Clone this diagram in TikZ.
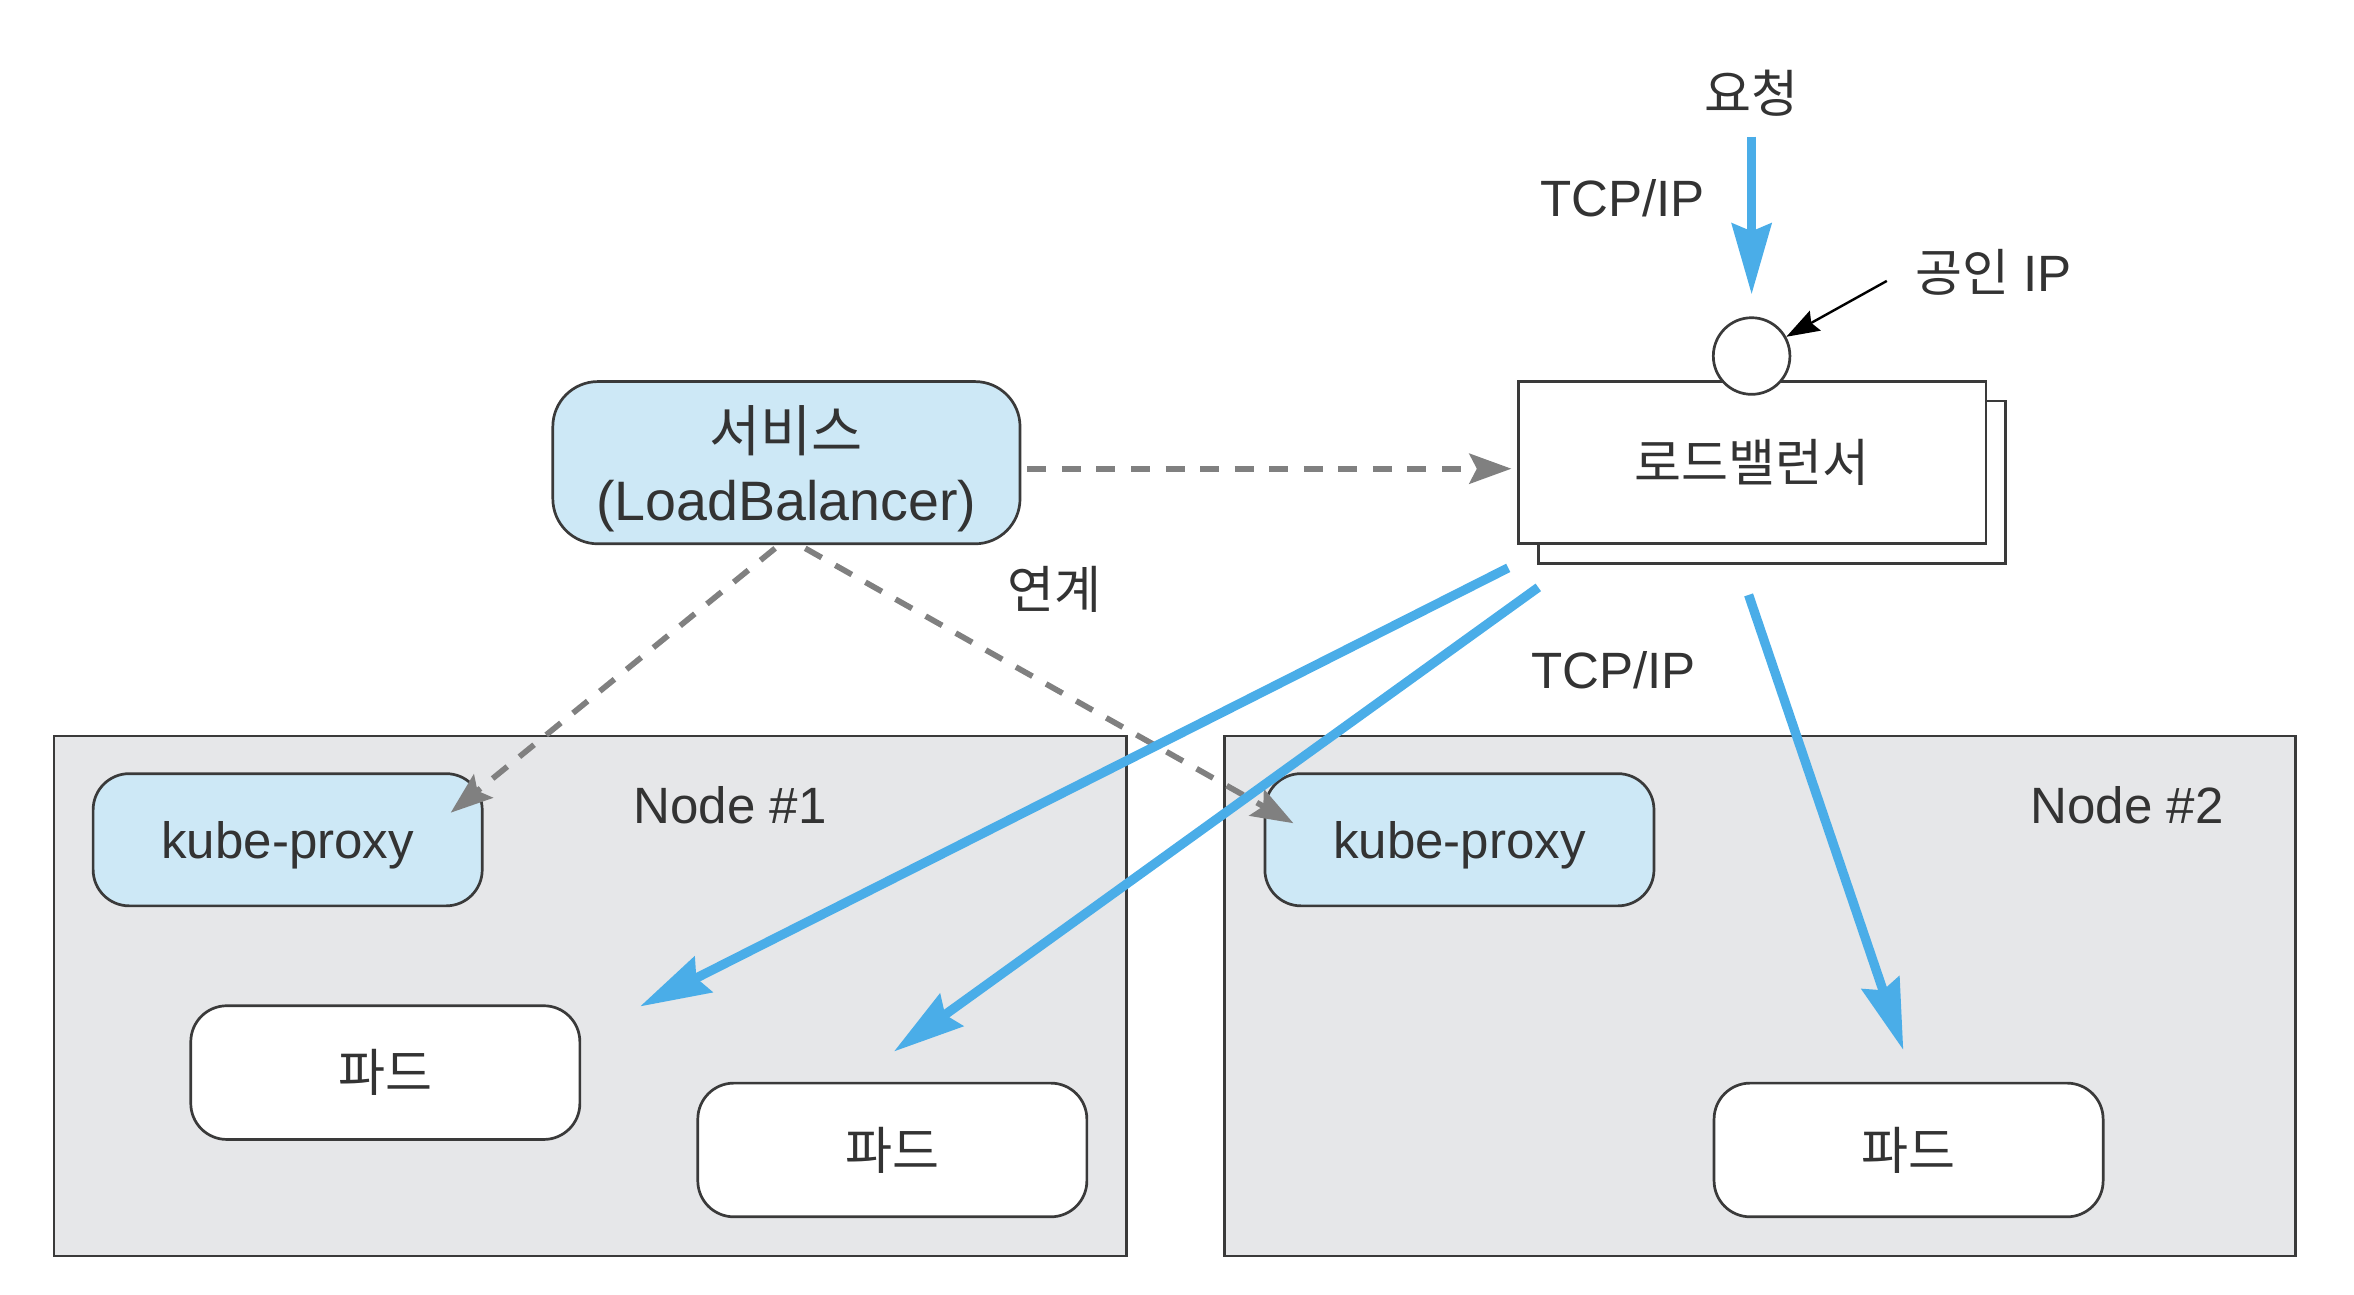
\documentclass[tikz,border=0pt]{standalone}
\usepackage{fontspec}
\setmainfont{Liberation Sans}
\newfontfamily\kr{Noto Sans CJK KR}
\usetikzlibrary{arrows.meta,calc}
\definecolor{bluefill}{HTML}{CDE8F6}
\definecolor{nodegray}{HTML}{E6E7E9}
\definecolor{arrowblue}{HTML}{4AADE8}
\definecolor{edgecol}{HTML}{3A3A3A}
\definecolor{dashgray}{HTML}{808080}
\definecolor{txt}{HTML}{333333}
\begin{document}
\begin{tikzpicture}[x=0.5pt,y=-0.5pt,
  font=\fontsize{17}{22.5}\selectfont, text=txt,
  hostbox/.style={draw=edgecol, line width=0.9pt, fill=nodegray},
  svcbox/.style={draw=edgecol, line width=0.9pt, fill=bluefill, rounded corners=15pt,
     minimum width=155.5pt, minimum height=54pt, inner sep=0pt, align=center,
     text depth=0pt, font=\fontsize{18.5}{23}\selectfont},
  proxybox/.style={draw=edgecol, line width=0.9pt, fill=bluefill, rounded corners=12pt,
     minimum width=129.5pt, minimum height=44pt, inner sep=0pt, text depth=0pt},
  podbox/.style={draw=edgecol, line width=0.9pt, fill=white, rounded corners=12pt,
     minimum width=129.5pt, minimum height=44.5pt, inner sep=0pt},
  lbbox/.style={draw=edgecol, line width=0.9pt, fill=white,
     minimum width=155.5pt, minimum height=54pt, inner sep=0pt},
  txtlabel/.style={inner sep=0pt},
  flow/.style={draw=arrowblue, line width=3.1pt,
     -{Stealth[length=23.5pt, width=13pt, inset=2.5pt]}},
  link/.style={draw=dashgray, line width=1.9pt, dash pattern=on 6.3pt off 5.2pt,
     -{Stealth[length=14pt, width=10pt, inset=2.5pt]}},
  pointer/.style={draw=black, line width=0.8pt,
     -{Stealth[length=11pt, width=7.5pt, inset=1.5pt]}},
]
\useasboundingbox (0,0) rectangle (1567,861.4);

% worker node boxes
\node[hostbox, minimum width=357pt, minimum height=173pt, inner sep=0pt] (node1) at (393,663) {};
\node[hostbox, minimum width=356.5pt, minimum height=173pt, inner sep=0pt] (node2) at (1171.5,663) {};
\node[txtlabel] (n1lbl) at (486,536) {Node \#1};
\node[txtlabel] (n2lbl) at (1416,536) {Node \#2};

% kube-proxy
\node[proxybox] (kp1) at (191.5,559) {kube-proxy};
\node[proxybox] (kp2) at (971.5,559) {kube-proxy};

% pods
\node[podbox] (pod1) at (256.5,714) {\kr 파드};
\node[podbox] (pod2) at (594,765.5) {\kr 파드};
\node[podbox] (pod3) at (1270.5,765.5) {\kr 파드};

% service
\node[svcbox] (svc) at (523.5,308) {{\kr 서비스}\\(LoadBalancer)};

% load balancer
\node[lbbox] (lbb) at (1179.5,321) {};
\node[lbbox] (lbf) at (1166.5,308) {\kr 로드밸런서};
\node[circle, draw=edgecol, fill=white, line width=0.9pt, minimum size=25.5pt, inner sep=0pt] (ip) at (1166,237) {};

% labels
\node[txtlabel] (req) at (1166,62) {\kr 요청};
\node[txtlabel] (tcp1) at (1080,132) {TCP/IP};
\node[txtlabel] (pubip) at (1327,181) {{\kr 공인} IP};
\node[txtlabel] (rel) at (702,392) {\kr 연계};
\node[txtlabel] (tcp2) at (1074,446) {TCP/IP};

% coordinates
\coordinate (reqs) at (1166,91);
\coordinate (reqt) at (1166,196);
\coordinate (ptr) at (1256,187);
\coordinate (svcl) at (516,365);
\coordinate (svcr) at (536,365);
\coordinate (kp1t) at (300,541);
\coordinate (kp2t) at (861,548);
\coordinate (s1) at (1004,378);
\coordinate (s2) at (1024,391);
\coordinate (s3) at (1164,396);
\coordinate (t1) at (426,670);
\coordinate (t2) at (595,700);
\coordinate (t3) at (1267,699);

% dashed links
\draw[link] ($(svc.east)+(4,4)$) -- ($(lbf.west)+(-4,4)$);
\draw[link] (svcl) -- (kp1t);
\draw[link] (svcr) -- (kp2t);

% blue flows
\draw[flow] (reqs) -- (reqt);
\draw[flow] (s1) -- (t1);
\draw[flow] (s2) -- (t2);
\draw[flow] (s3) -- (t3);

% pointer to public IP
\draw[pointer] (ptr) -- (ip);
\end{tikzpicture}
\end{document}
